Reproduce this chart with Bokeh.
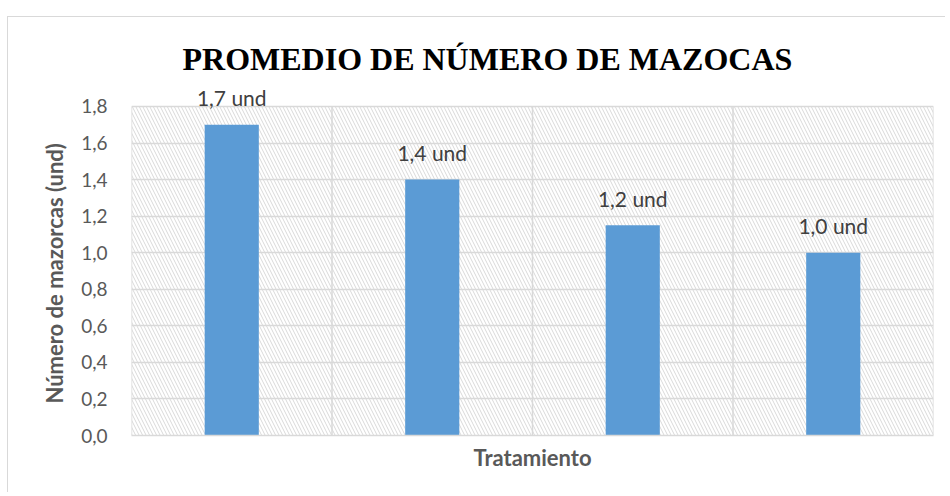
from bokeh.plotting import figure
from bokeh.models import (Range1d, FixedTicker, CustomJSTickFormatter, ColumnDataSource)
from bokeh.core.properties import value
from bokeh.embed import file_html
from bokeh.resources import INLINE

# ---- data ----
categories = ["T1", "T2", "T3", "T4"]
values = [1.7, 1.4, 1.15, 1.0]
bar_labels = ["1,7 und", "1,4 und", "1,2 und", "1,0 und"]
y_ticks = [0.0, 0.2, 0.4, 0.6, 0.8, 1.0, 1.2, 1.4, 1.6, 1.8]
title_text = "PROMEDIO DE NÚMERO DE MAZOCAS"
x_title = "Tratamiento"
y_title = "Número de mazorcas (und)"

n = len(categories)
x_pos = [i + 0.5 for i in range(n)]
bounds = list(range(n + 1))
src = ColumnDataSource(dict(x=x_pos, top=values, label=bar_labels))

GRID = "#d9d9d9"
TXT = "#595959"
Y_MAX = y_ticks[-1]

p = figure(width=938, height=476, output_backend="svg", toolbar_location=None,
           x_range=Range1d(0, n), y_range=Range1d(0, 1.92),
           min_border_left=123, min_border_right=13, min_border_top=67,
           min_border_bottom=58, background_fill_color="white",
           border_fill_color="white", outline_line_color=None)
p.styles = {"margin-left": "7px", "margin-top": "16px",
            "border-left": "1px solid #d9d9d9", "border-top": "1px solid #d9d9d9"}

# title
p.title.text = title_text
p.title.align = "left"
p.title.offset = 51
p.title.standoff = 15
p.title.text_font = "Liberation Serif"
p.title.text_font_style = "bold"
p.title.text_font_size = "32px"
p.title.text_color = "black"

# hatched plot-area background
p.quad(left=[0], right=[n], bottom=[0], top=[Y_MAX],
       fill_color=None, line_color=None, hatch_pattern="\\",
       hatch_color="#d9d9d9", hatch_scale=7, hatch_weight=1, level="image")

# vertical grid lines at category boundaries
p.segment(x0=bounds, y0=[0] * len(bounds), x1=bounds, y1=[Y_MAX] * len(bounds),
          line_color=GRID, line_width=1.5, level="underlay")

# bars
p.vbar(x="x", top="top", width=0.27, source=src, fill_color="#5b9bd5",
       line_color=None)

# value labels
p.text(x="x", y="top", text="label", source=src, text_align="center",
       text_baseline="alphabetic", y_offset=-27, text_color="#404040",
       text_font=value("Lato"), text_font_size="21px")

# grids
p.xgrid.grid_line_color = None
p.ygrid.ticker = FixedTicker(ticks=y_ticks)
p.ygrid.grid_line_color = GRID
p.ygrid.grid_line_width = 1.5

# axes
p.yaxis.ticker = FixedTicker(ticks=y_ticks)
p.yaxis.formatter = CustomJSTickFormatter(code="return tick.toFixed(1).replace('.', ',');")
p.yaxis.axis_line_color = None
p.yaxis.major_tick_line_color = None
p.yaxis.minor_tick_line_color = None
p.yaxis.major_label_text_font = "Lato"
p.yaxis.major_label_text_font_size = "19px"
p.yaxis.major_label_text_color = TXT
p.yaxis.major_label_standoff = 18
# trailing no-break spaces centre the rotated label on the 0-1.8 band
p.yaxis.axis_label = y_title + "\u00a0" * 5
p.yaxis.axis_label_text_font = "Lato"
p.yaxis.axis_label_text_font_style = "bold"
p.yaxis.axis_label_text_font_size = "22px"
p.yaxis.axis_label_text_color = TXT
p.yaxis.axis_label_standoff = 10

p.xaxis.ticker = FixedTicker(ticks=[])
p.xaxis.major_label_text_font_size = "0px"
p.xaxis.axis_line_color = GRID
p.xaxis.axis_line_width = 1.5
p.xaxis.major_tick_line_color = None
p.xaxis.minor_tick_line_color = None
p.xaxis.axis_label = x_title
p.xaxis.axis_label_text_font = "Lato"
p.xaxis.axis_label_text_font_style = "bold"
p.xaxis.axis_label_text_font_size = "22px"
p.xaxis.axis_label_text_color = TXT
p.xaxis.axis_label_standoff = 8

open("out.html", "w").write(file_html(p, INLINE))
